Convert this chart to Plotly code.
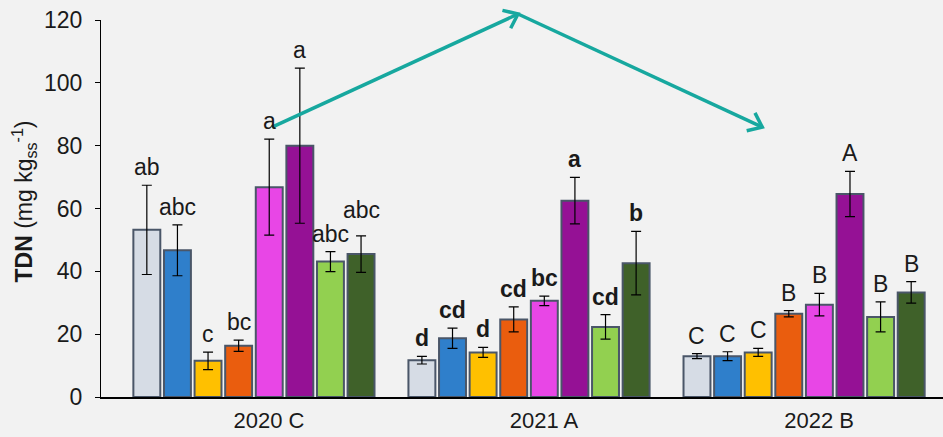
import math
import plotly.graph_objects as go

# Sampling years / sites on the category axis
years = ["2020 C", "2021 A", "2022 B"]

# Eight treatments per year: mean TDN and its error
tdn_2020 = [53.2, 46.7, 11.5, 16.3, 66.8, 80.0, 43.1, 45.5]
err_2020 = [14.2, 8.1, 2.8, 1.8, 15.3, 24.7, 3.2, 5.8]
tdn_2021 = [11.7, 18.7, 14.2, 24.7, 30.6, 62.5, 22.3, 42.6]
err_2021 = [1.2, 3.2, 1.6, 4.0, 1.5, 7.4, 3.9, 10.1]
tdn_2022 = [13.0, 13.0, 14.2, 26.5, 29.4, 64.6, 25.5, 33.3]
err_2022 = [0.8, 1.4, 1.3, 1.0, 3.6, 7.2, 4.8, 3.4]

# Significance letters for each bar
letters_2020 = ["ab", "abc", "c", "bc", "a", "a", "abc", "abc"]
letters_2021 = ["d", "cd", "d", "cd", "bc", "a", "cd", "b"]
letters_2022 = ["C", "C", "C", "B", "B", "A", "B", "B"]

colors = ["#D6DCE5", "#2F7FCB", "#FFC000", "#EA5D0E",
          "#E846E6", "#951195", "#92D050", "#3F6129"]

means = [tdn_2020, tdn_2021, tdn_2022]
errs = [err_2020, err_2021, err_2022]
letters = [letters_2020, letters_2021, letters_2022]
bold_year = [False, True, False]

FONT = "Liberation Sans, Arial, sans-serif"
TXT = "#1A1A1A"
BG = "#F2F2F2"
BARGAP = 0.11
N = len(colors)

# plot geometry
M_L, M_R, M_T, M_B = 101, 0, 20, 40
W, H = 943, 437
Y_MAX = 120
X_RANGE = [-0.556, 2.505]
plot_w = W - M_L - M_R
plot_h = H - M_T - M_B
px_per_y = plot_h / Y_MAX
px_per_x = plot_w / (X_RANGE[1] - X_RANGE[0])

fig = go.Figure()
for i in range(N):
    fig.add_trace(go.Bar(
        x=years,
        y=[m[i] for m in means],
        error_y=dict(type="data", array=[e[i] for e in errs],
                     color="black", thickness=1.2, width=5),
        marker=dict(color=colors[i], line=dict(color="#4A5668", width=2)),
        showlegend=False,
    ))

# letters above the error bars; wide neighbours are stacked apart
annotations = []
step = (1 - BARGAP) / N
for g in range(len(years)):
    prev_px = None
    prev_wide = False
    for i in range(N):
        top_px = (means[g][i] + errs[g][i]) * px_per_y + 3
        wide = len(letters[g][i]) >= 3
        if prev_px is not None and wide and prev_wide and top_px - prev_px < 24:
            top_px = prev_px + 24
        txt = letters[g][i]
        if bold_year[g]:
            txt = "<b>" + txt + "</b>"
        annotations.append(dict(
            x=g + (i - (N - 1) / 2) * step, y=top_px / px_per_y,
            xref="x", yref="y", text=txt, showarrow=False,
            yanchor="bottom", xanchor="center",
            font=dict(family=FONT, size=23, color=TXT),
        ))
        prev_px = top_px
        prev_wide = wide

# y-axis title with subscript / superscript
annotations.append(dict(
    x=0, y=0.5, xref="paper", yref="paper", xshift=-78, yshift=7,
    text="<b>TDN</b> (mg kg<sub>ss</sub><sup>-1</sup>)", textangle=-90,
    showarrow=False, xanchor="center", yanchor="middle",
    font=dict(family=FONT, size=23, color=TXT),
))

# trend arrows: up from 2020 towards 2021, then down towards 2022
ARROW = "#17A89F"
arrow_x = [0.066, 0.960, 1.848]
arrow_y = [85.9, 121.9, 85.9]
HEAD_LEN = 16
HEAD_ANGLE = math.radians(38)
shapes = []
for k in range(len(arrow_x) - 1):
    x0, y0 = arrow_x[k], arrow_y[k] / Y_MAX
    x1, y1 = arrow_x[k + 1], arrow_y[k + 1] / Y_MAX
    shapes.append(dict(type="line", xref="x", yref="paper",
                       x0=x0, y0=y0, x1=x1, y1=y1,
                       line=dict(color=ARROW, width=3.5)))
    # chevron head built in pixel space, mapped back to axis/paper units
    dxp = (x1 - x0) * px_per_x
    dyp = (y1 - y0) * plot_h
    ang = math.atan2(dyp, dxp)
    pts = []
    for s in (1, -1):
        a = ang + math.pi + s * HEAD_ANGLE
        pts.append((x1 + HEAD_LEN * math.cos(a) / px_per_x,
                    y1 + HEAD_LEN * math.sin(a) / plot_h))
    path = (f"M {pts[0][0]},{pts[0][1]} L {x1},{y1} "
            f"L {pts[1][0]},{pts[1][1]}")
    shapes.append(dict(type="path", xref="x", yref="paper", path=path,
                       line=dict(color=ARROW, width=3.5)))

fig.update_layout(
    width=W, height=H,
    margin=dict(l=M_L, r=M_R, t=M_T, b=M_B),
    paper_bgcolor=BG, plot_bgcolor=BG,
    barmode="group", bargap=BARGAP, bargroupgap=0.12,
    annotations=annotations, shapes=shapes,
    font=dict(family=FONT, size=23, color=TXT),
    xaxis=dict(
        type="category", range=X_RANGE,
        showline=True, linecolor="black", linewidth=1.5,
        ticks="", showgrid=False, zeroline=False,
        ticklabelshift=15, ticklabelstandoff=3,
        tickfont=dict(family=FONT, size=22, color=TXT),
    ),
    yaxis=dict(
        range=[0, Y_MAX], tickvals=list(range(0, 121, 20)),
        showline=True, linecolor="black", linewidth=1.3,
        ticks="outside", ticklen=5, tickcolor="black", tickwidth=1.3,
        ticklabelstandoff=8,
        showgrid=False, zeroline=False,
        tickfont=dict(family=FONT, size=23, color=TXT),
    ),
)

fig.write_html("out.html")
